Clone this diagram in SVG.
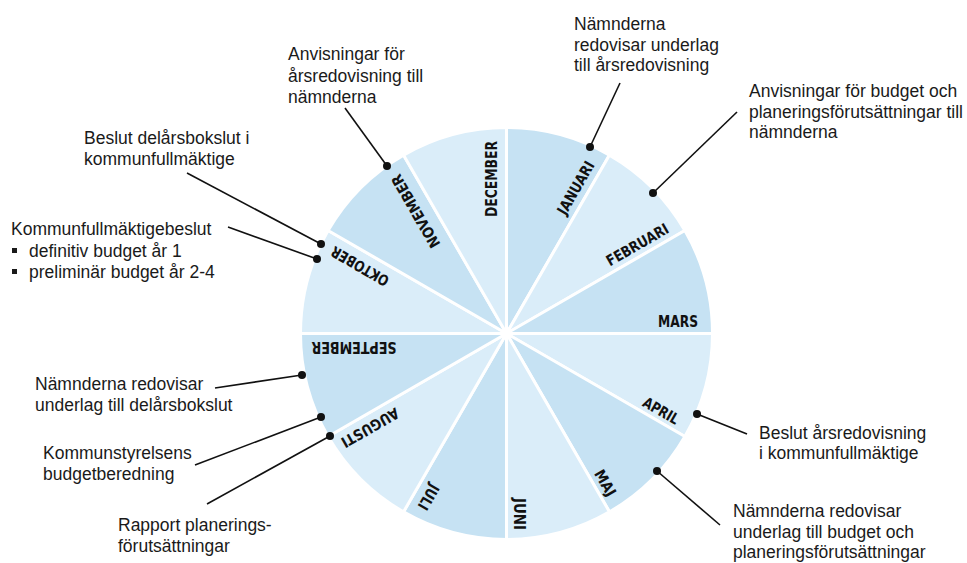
<svg xmlns="http://www.w3.org/2000/svg" width="967" height="563" viewBox="0 0 967 563">
<style>
.dk{fill:#c6e2f3;stroke:#ffffff;stroke-width:3;stroke-linejoin:round}
.lt{fill:#daedf9;stroke:#ffffff;stroke-width:3;stroke-linejoin:round}
.m{font-family:"Liberation Sans Narrow","DejaVu Sans Condensed","Liberation Sans",sans-serif;font-weight:bold;font-size:15px;fill:#111111;text-anchor:middle}
.t{font-family:"Liberation Sans",Arial,sans-serif;font-size:17.5px;fill:#1a1a1a}
.c line{stroke:#111111;stroke-width:1.6}
.c circle{fill:#111111}
</style>
<rect width="967" height="563" fill="#ffffff"/>
<g id="wheel">
<g id="jan"><path class="dk" d="M506.5,333.5 L506.5,127.5 A206,206 0 0 1 609.5,155.1 Z"/><text class="m" transform="translate(576,188) rotate(-60)" y="5" textLength="59" lengthAdjust="spacingAndGlyphs">JANUARI</text></g>
<g id="feb"><path class="lt" d="M506.5,333.5 L609.5,155.1 A206,206 0 0 1 684.9,230.5 Z"/><text class="m" transform="translate(637.5,245) rotate(-30)" y="5" textLength="69" lengthAdjust="spacingAndGlyphs">FEBRUARI</text></g>
<g id="mar"><path class="dk" d="M506.5,333.5 L684.9,230.5 A206,206 0 0 1 712.5,333.5 Z"/><text class="m" transform="translate(678,322)" y="5" textLength="40" lengthAdjust="spacingAndGlyphs">MARS</text></g>
<g id="apr"><path class="lt" d="M506.5,333.5 L712.5,333.5 A206,206 0 0 1 684.9,436.5 Z"/><text class="m" transform="translate(661,411) rotate(30)" y="5" textLength="39" lengthAdjust="spacingAndGlyphs">APRIL</text></g>
<g id="maj"><path class="dk" d="M506.5,333.5 L684.9,436.5 A206,206 0 0 1 609.5,511.9 Z"/><text class="m" transform="translate(605,483) rotate(60)" y="5" textLength="28" lengthAdjust="spacingAndGlyphs">MAJ</text></g>
<g id="jun"><path class="lt" d="M506.5,333.5 L609.5,511.9 A206,206 0 0 1 506.5,539.5 Z"/><text class="m" transform="translate(519,514) rotate(90)" y="5" textLength="32" lengthAdjust="spacingAndGlyphs">JUNI</text></g>
<g id="jul"><path class="dk" d="M506.5,333.5 L506.5,539.5 A206,206 0 0 1 403.5,511.9 Z"/><text class="m" transform="translate(428.3,497) rotate(120)" y="5" textLength="27" lengthAdjust="spacingAndGlyphs">JULI</text></g>
<g id="aug"><path class="lt" d="M506.5,333.5 L403.5,511.9 A206,206 0 0 1 328.1,436.5 Z"/><text class="m" transform="translate(370,427.5) rotate(150)" y="5" textLength="64" lengthAdjust="spacingAndGlyphs">AUGUSTI</text></g>
<g id="sep"><path class="dk" d="M506.5,333.5 L328.1,436.5 A206,206 0 0 1 300.5,333.5 Z"/><text class="m" transform="translate(354,347) rotate(180)" y="5" textLength="85" lengthAdjust="spacingAndGlyphs">SEPTEMBER</text></g>
<g id="okt"><path class="lt" d="M506.5,333.5 L300.5,333.5 A206,206 0 0 1 328.1,230.5 Z"/><text class="m" transform="translate(360,266) rotate(210)" y="5" textLength="64" lengthAdjust="spacingAndGlyphs">OKTOBER</text></g>
<g id="nov"><path class="dk" d="M506.5,333.5 L328.1,230.5 A206,206 0 0 1 403.5,155.1 Z"/><text class="m" transform="translate(416,211) rotate(240)" y="5" textLength="82" lengthAdjust="spacingAndGlyphs">NOVEMBER</text></g>
<g id="dec"><path class="lt" d="M506.5,333.5 L403.5,155.1 A206,206 0 0 1 506.5,127.5 Z"/><text class="m" transform="translate(492,179) rotate(-90)" y="5" textLength="76" lengthAdjust="spacingAndGlyphs">DECEMBER</text></g>
</g>
<g id="connectors" class="c">
<line x1="345" y1="108" x2="387" y2="166"/><circle cx="387" cy="166" r="4"/>
<line x1="187" y1="173" x2="321" y2="244"/><circle cx="321" cy="244" r="4"/>
<line x1="228" y1="227" x2="317" y2="259"/><circle cx="317" cy="259" r="4"/>
<line x1="620" y1="83" x2="590" y2="147"/><circle cx="590" cy="147" r="4"/>
<line x1="737" y1="112" x2="653" y2="193"/><circle cx="653" cy="193" r="4"/>
<line x1="747" y1="434" x2="697" y2="414"/><circle cx="697" cy="414" r="4"/>
<line x1="720" y1="525" x2="657" y2="471"/><circle cx="657" cy="471" r="4"/>
<line x1="215" y1="388" x2="302" y2="375"/><circle cx="302" cy="375" r="4"/>
<line x1="195" y1="465" x2="321" y2="417"/><circle cx="321" cy="417" r="4"/>
<line x1="207" y1="504" x2="330" y2="436"/><circle cx="330" cy="436" r="4"/>
</g>
<g id="n1"><text class="t" x="288" y="60">Anvisningar för<tspan x="288" y="81.5">årsredovisning till</tspan><tspan x="288" y="103">nämnderna</tspan></text></g>
<g id="n2"><text class="t" x="84" y="143.5">Beslut delårsbokslut i<tspan x="84" y="165">kommunfullmäktige</tspan></text></g>
<g id="n3"><text class="t" x="11" y="235">Kommunfullmäktigebeslut<tspan x="29" y="256.5">definitiv budget år 1</tspan><tspan x="29" y="277.5">preliminär budget år 2-4</tspan></text><rect x="12" y="248" width="5" height="5" fill="#1a1a1a"/><rect x="12" y="269" width="5" height="5" fill="#1a1a1a"/></g>
<g id="n4"><text class="t" x="574" y="29.5">Nämnderna<tspan x="574" y="50.5">redovisar underlag</tspan><tspan x="574" y="71">till årsredovisning</tspan></text></g>
<g id="n5"><text class="t" x="749" y="96.5">Anvisningar för budget och<tspan x="749" y="117.5">planeringsförutsättningar till</tspan><tspan x="749" y="138">nämnderna</tspan></text></g>
<g id="n6"><text class="t" x="759" y="438.5">Beslut årsredovisning<tspan x="759" y="459">i kommunfullmäktige</tspan></text></g>
<g id="n7"><text class="t" x="733" y="517">Nämnderna redovisar<tspan x="733" y="537.5">underlag till budget och</tspan><tspan x="733" y="558">planeringsförutsättningar</tspan></text></g>
<g id="n8"><text class="t" x="35" y="389.5">Nämnderna redovisar<tspan x="35" y="410.5">underlag till delårsbokslut</tspan></text></g>
<g id="n9"><text class="t" x="43" y="458.5">Kommunstyrelsens<tspan x="43" y="479.5">budgetberedning</tspan></text></g>
<g id="n10"><text class="t" x="118" y="531">Rapport planerings-<tspan x="118" y="552">förutsättningar</tspan></text></g>
</svg>
